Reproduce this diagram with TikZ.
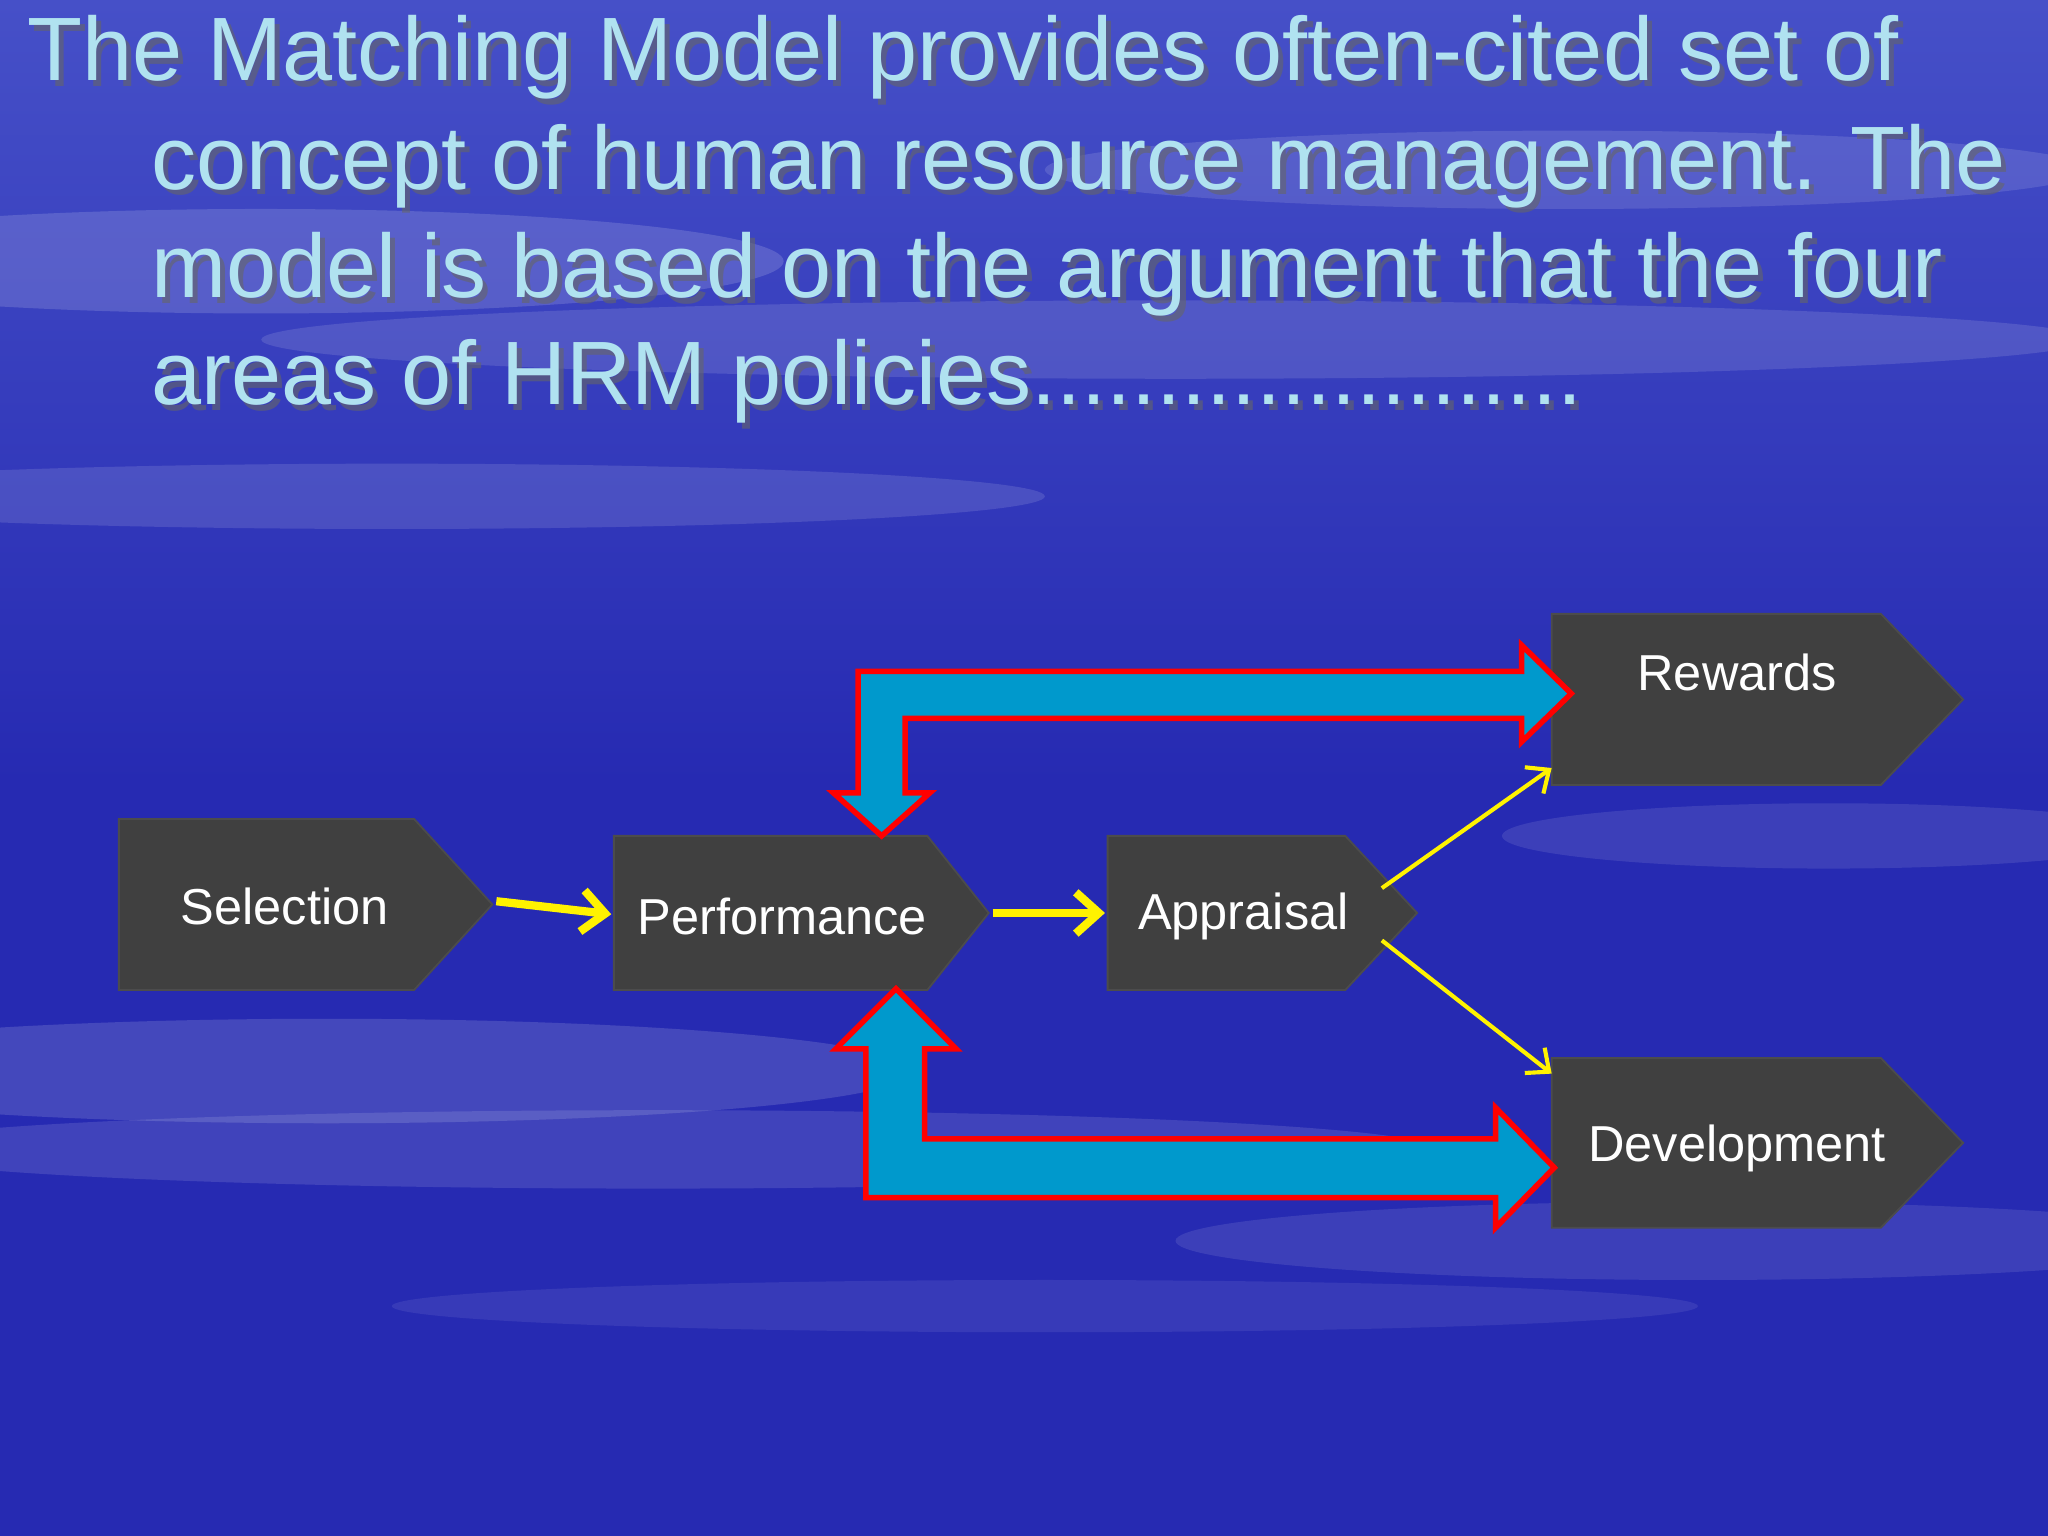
\documentclass[tikz,border=0pt]{standalone}
\usepackage{fontspec}
\setmainfont{Liberation Sans}
\usetikzlibrary{arrows.meta}
\definecolor{bgblue}{RGB}{38,42,178}
\definecolor{bgtop}{RGB}{70,80,200}
\definecolor{titlec}{RGB}{176,226,240}
\definecolor{boxc}{RGB}{64,64,64}
\definecolor{flowc}{RGB}{0,153,204}
\tikzset{
  boxshape/.style={fill=boxc, draw=black!70, line width=0.4pt},
  boxtext/.style={text=white, font=\fontsize{11}{13}\selectfont},
  ttl/.style={anchor=base west, text=titlec, font=\fontsize{19.6}{23}\selectfont, inner sep=0pt},
  ttlsh/.style={anchor=base west, text=black!60, opacity=0.6, font=\fontsize{19.6}{23}\selectfont, inner sep=0pt},
  yarr/.style={draw=yellow, line width=1.8pt, -{Straight Barb[length=5pt,width=9pt]}},
  yarrthin/.style={draw=yellow, line width=0.9pt, -{Straight Barb[length=4pt,width=7pt]}},
  bigarr/.style={fill=flowc, draw=red, line width=1.2pt, line join=miter},
}
\newcommand\hrmbox[6]{% name, x1, y1, xbody, xtip, y2
  \fill[black,opacity=0.35] (#2+0.04,#3-0.04) -- (#4+0.04,#3-0.04) -- (#5+0.04,{(#3+#6)/2-0.04}) -- (#4+0.04,#6-0.04) -- (#2+0.04,#6-0.04) -- cycle;
  \draw[boxshape] (#2,#3) -- (#4,#3) -- (#5,{(#3+#6)/2}) -- (#4,#6) -- (#2,#6) -- cycle;
  \coordinate (#1) at ({(#2+#5)/2},{(#3+#6)/2});
}
\begin{document}
\begin{tikzpicture}[x=0.01cm,y=-0.01cm]
\useasboundingbox (0,0) rectangle (1568,1176);
\shade[top color=bgtop, bottom color=bgblue] (0,0) rectangle (1568,600);
\fill[bgblue] (0,599) rectangle (1568,1176);
% soft clouds
\foreach \cx/\cy/\rx/\ry/\op in {200/200/400/40/0.15, 900/260/700/30/0.12, 300/380/500/25/0.12, 1200/130/400/30/0.12, 250/820/450/40/0.14, 500/880/600/30/0.12, 1400/640/250/25/0.1, 1300/950/400/30/0.1, 800/1000/500/20/0.08}
  \fill[white,opacity=\op] (\cx,\cy) ellipse [x radius=\rx, y radius=\ry];
% title
\foreach \t/\x/\y in {{The Matching Model provides often-cited set of}/20/62,
  {concept of human resource management. The}/115/145,
  {model is based on the argument that the four}/115/228,
  {areas of HRM policies......................}/115/310}{
  \node[ttlsh] at (\x+4,\y+4) {\t};
  \node[ttl] at (\x,\y) {\t};
}
% boxes
\hrmbox{sel}{91}{627}{317}{377}{758}
\hrmbox{perf}{470}{640}{710}{757}{758}
\hrmbox{appr}{848}{640}{1030}{1085}{758}
\hrmbox{rew}{1188}{470}{1440}{1503}{601}
\hrmbox{dev}{1188}{810}{1440}{1503}{940}
\node[boxtext] at (218,694) {Selection};
\node[boxtext] at (599,702) {Performance};
\node[boxtext] at (952,702) {Appraisal};
\node[boxtext] at (1330,515) {Rewards};
\node[boxtext] at (1330,879) {Development};
% coordinates for connectors
\coordinate (selout) at (380,690);
\coordinate (perfin) at (468,700);
\coordinate (perfout) at (760,699);
\coordinate (apprin) at (846,699);
\coordinate (appru) at (1058,680);
\coordinate (apprd) at (1058,720);
\coordinate (rewin) at (1188,588);
\coordinate (devin) at (1188,822);
\draw[yarr] (selout) -- (perfin);
\draw[yarr] (perfout) -- (apprin);
\draw[yarrthin] (appru) -- (rewin);
\draw[yarrthin] (apprd) -- (devin);
% big elbow arrows
\draw[bigarr] (657,514) -- (1165,514) -- (1165,494) -- (1203,531) -- (1165,568) -- (1165,550) -- (693,550) -- (693,607) -- (712,607) -- (675,640) -- (638,607) -- (657,607) -- cycle;
\draw[bigarr] (663,917) -- (1145,917) -- (1145,940) -- (1190,894) -- (1145,848) -- (1145,872) -- (708,872) -- (708,803) -- (732,803) -- (686,757) -- (640,803) -- (663,803) -- cycle;
\end{tikzpicture}
\end{document}
